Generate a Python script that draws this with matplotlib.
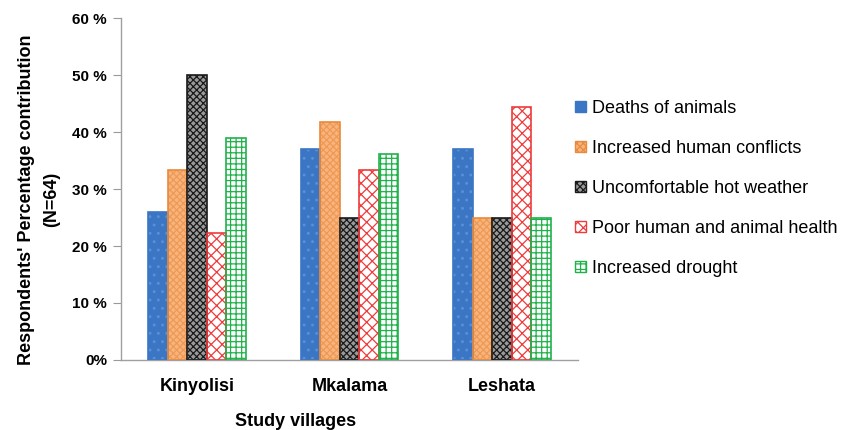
import matplotlib
matplotlib.use("Agg")
import matplotlib.pyplot as plt
import numpy as np
from matplotlib.patches import Patch
from matplotlib.ticker import FixedLocator

villages = ["Kinyolisi", "Mkalama", "Leshata"]
series_names = [
    "Deaths of animals",
    "Increased human conflicts",
    "Uncomfortable hot weather",
    "Poor human and animal health",
    "Increased drought",
]
deaths_of_animals = [25.9, 37.0, 37.0]
human_conflicts = [33.3, 41.7, 25.0]
hot_weather = [50.0, 25.0, 25.0]
poor_health = [22.2, 33.3, 44.4]
increased_drought = [38.9, 36.1, 25.0]
y_ticks = [0, 10, 20, 30, 40, 50, 60]
y_tick_labels = ["0%", "10 %", "20 %", "30 %", "40 %", "50 %", "60 %"]

values = [deaths_of_animals, human_conflicts, hot_weather, poor_health, increased_drought]

# face colour, hatch pattern, hatch colour, border colour
styles = [
    ("#3b76c4", "..", "#5c8fd4", "#3b76c4"),
    ("#f8b47e", "xxxxx", "#ee9a55", "#e98a3c"),
    ("#9a9a9a", "xxxxx", "#1a1a1a", "#1a1a1a"),
    ("#ffffff", "xxx", "#ee3b3b", "#ee3b3b"),
    ("#ffffff", "+++", "#1fb24a", "#1fb24a"),
]

plt.rcParams["font.family"] = ["Liberation Sans", "DejaVu Sans"]
plt.rcParams["hatch.linewidth"] = 0.9

fig = plt.figure(figsize=(8.43, 4.30), dpi=100)
ax = fig.add_axes([0.1435, 0.1628, 0.5422, 0.7953])

x = np.arange(len(villages))
bw = 0.128
n = len(values)
for i, (vals, (fc, hatch, hc, ec)) in enumerate(zip(values, styles)):
    pos = x + (i - (n - 1) / 2) * bw
    ax.bar(pos, vals, width=bw, color=fc, hatch=hatch, edgecolor=hc, linewidth=0, zorder=2)
    ax.bar(pos, vals, width=bw, fill=False, edgecolor=ec, linewidth=1.2, zorder=3)

ax.set_xlim(-0.5, 2.5)
ax.set_ylim(0, 60)
ax.yaxis.set_major_locator(FixedLocator(y_ticks))
ax.set_yticklabels(y_tick_labels, fontsize=11, fontweight="bold")
ax.set_xticks(x)
ax.set_xticklabels(villages, fontsize=13, fontweight="bold")
ax.tick_params(axis="x", length=0, pad=13)
ax.tick_params(axis="y", length=6, color="#9a9a9a", pad=4)
for s in ["top", "right"]:
    ax.spines[s].set_visible(False)
for s in ["left", "bottom"]:
    ax.spines[s].set_color("#a0a0a0")
    ax.spines[s].set_linewidth(1.0)

ax.set_xlabel("Study villages", fontsize=13, fontweight="bold")
ax.xaxis.set_label_coords(0.383, -0.155)
ax.set_ylabel("Respondents' Percentage contribution\n(N=64)", fontsize=13,
              fontweight="bold", linespacing=1.65)
ax.yaxis.set_label_coords(-0.133, 0.47)

handles = [Patch(facecolor=fc, hatch=h, edgecolor=hc, linewidth=0)
           for fc, h, hc, ec in styles]
leg = fig.legend(handles, series_names, loc="upper left",
                 bbox_to_anchor=(0.674, 0.785), frameon=False,
                 prop={"size": 13},
                 handlelength=0.6, handleheight=0.6, handletextpad=0.3,
                 labelspacing=1.28, borderaxespad=0)
for h, (fc, hatch, hc, ec) in zip(leg.legend_handles, styles):
    h.set_edgecolor(ec)
    h.set_linewidth(1.0)

fig.savefig("out.png", dpi=100)
